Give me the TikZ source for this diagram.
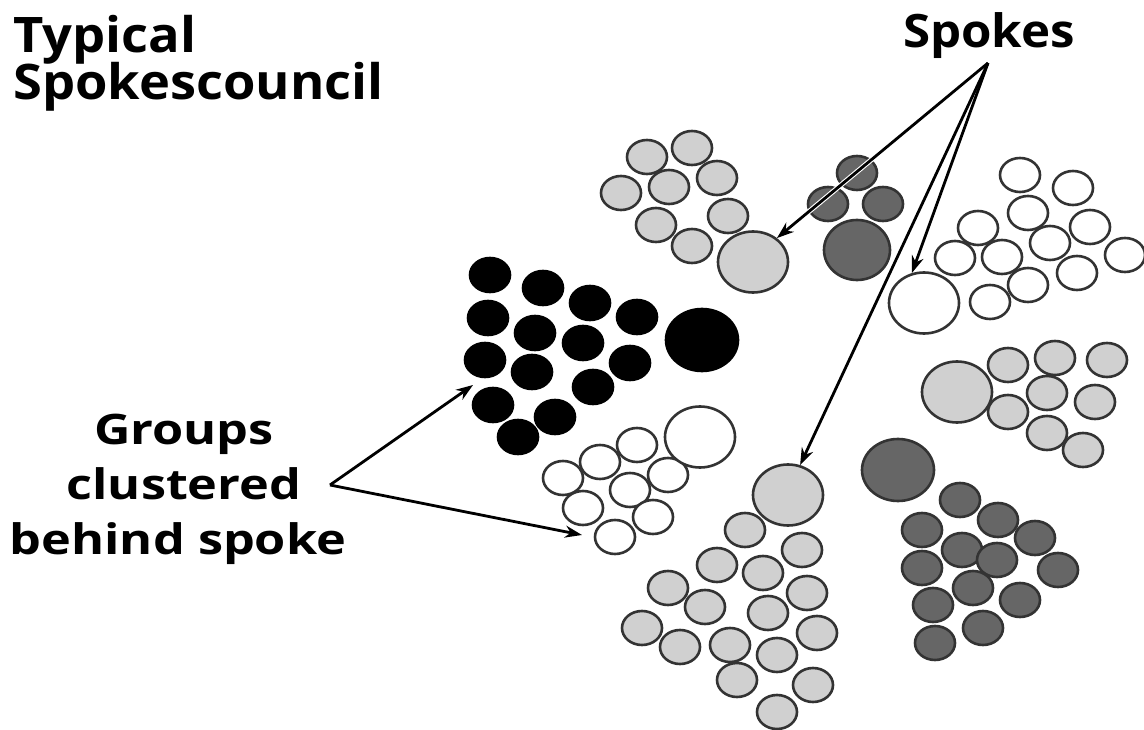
\documentclass[tikz,border=0pt]{standalone}
\usepackage{fontspec}
\setmainfont{Open Sans}
\newfontfamily\titlefont{Open Sans}[FakeStretch=1.07]
\newfontfamily\groupfont{Open Sans}[FakeStretch=1.2]
\usetikzlibrary{shapes.geometric,arrows.meta}
\definecolor{lgray}{HTML}{D0D0D0}
\definecolor{dgray}{HTML}{666666}
\definecolor{rim}{HTML}{333333}
\tikzset{
  dot/.style={ellipse,inner sep=0pt,draw=rim,line width=2.6pt,minimum width=40pt,minimum height=34pt},
  bigdot/.style={dot,minimum width=70pt,minimum height=61pt},
  lg/.style={fill=lgray},
  dg/.style={fill=dgray},
  wt/.style={fill=white},
  bk/.style={fill=black,draw=black},
  arr/.style={line width=2.8pt,-{Stealth[length=17pt,width=12pt]}},
  label/.style={inner sep=0pt},
}
\begin{document}
\begin{tikzpicture}[x=1pt,y=-1pt]
\useasboundingbox (0,0) rectangle (1144,730);
% light grey top-left cluster
\foreach \x/\y [count=\i] in {647/157,692/148,621/193,669/187,717/178,656/225,728/216,692/246}
  \node[dot,lg] (a\i) at (\x,\y) {};
\node[bigdot,lg] (aS) at (753,262) {};
% dark grey top cluster
\foreach \x/\y [count=\i] in {857/173,828/204,883/204}
  \node[dot,dg] (b\i) at (\x,\y) {};
\node[bigdot,dg,minimum width=66pt,minimum height=60pt] (bS) at (857,250) {};
% white top-right cluster
\foreach \x/\y [count=\i] in {1020/175,1073/188,1028/213,1090/227,978/228,1050/243,955/258,1002/257,1125/255,1077/273,1028/285,990/302}
  \node[dot,wt] (c\i) at (\x,\y) {};
\node[bigdot,wt] (cS) at (924,303) {};
% black cluster
\foreach \x/\y [count=\i] in {490/275,543/288,590/303,637/317,488/318,535/333,583/343,485/360,532/372,630/363,593/387,493/405,555/417,518/437}
  \node[dot,bk] (d\i) at (\x,\y) {};
\node[bigdot,bk,minimum width=72pt,minimum height=62pt] (dS) at (702,340) {};
% white lower-left cluster
\foreach \x/\y [count=\i] in {637/445,600/462,668/475,563/478,630/490,583/508,653/517,615/537}
  \node[dot,wt] (e\i) at (\x,\y) {};
\node[bigdot,wt] (eS) at (700,437) {};
% light grey bottom cluster
\foreach \x/\y [count=\i] in {745/530,802/550,717/565,763/573,668/588,807/593,705/607,768/613,642/628,817/633,680/647,730/645,777/655,737/680,813/685,777/712}
  \node[dot,lg] (f\i) at (\x,\y) {};
\node[bigdot,lg] (fS) at (788,495) {};
% light grey right cluster
\foreach \x/\y [count=\i] in {1008/365,1055/358,1107/360,1047/393,1095/402,1008/412,1047/433,1083/450}
  \node[dot,lg] (g\i) at (\x,\y) {};
\node[bigdot,lg] (gS) at (957,392) {};
% dark grey bottom-right cluster
\foreach \x/\y [count=\i] in {960/500,998/520,922/530,1035/538,962/550,997/560,922/568,1058/570,973/588,1020/600,933/605,983/628,935/643}
  \node[dot,dg] (h\i) at (\x,\y) {};
\node[bigdot,dg,minimum width=72pt,minimum height=62pt] (hS) at (898,470) {};
% texts
\node[label,anchor=base west,font=\titlefont\fontsize{49}{49}\selectfont\bfseries] (t1) at (13,53) {Typical};
\node[label,anchor=base west,font=\titlefont\fontsize{49}{49}\selectfont\bfseries] (t2) at (13,100) {Spokescouncil};
\node[label,anchor=base,font=\titlefont\fontsize{46}{46}\selectfont\bfseries] (sp) at (989,48) {Spokes};
\node[label,anchor=base,font=\groupfont\fontsize{42}{42}\selectfont\bfseries] (g1) at (184,444) {Groups};
\node[label,anchor=base,font=\groupfont\fontsize{42}{42}\selectfont\bfseries] (g2) at (184,499) {clustered};
\node[label,anchor=base,font=\groupfont\fontsize{42}{42}\selectfont\bfseries] (g3) at (178,554) {behind spoke};
% connectors
\coordinate (so) at (988,63);
\coordinate (go) at (330,485);
\coordinate (gt1) at (473,385);
\coordinate (gt2) at (582,535);
\draw[arr,preaction={draw=white,line width=5pt}] (so) -- (aS.45);
\draw[arr] (so) -- (cS.112);
\draw[arr] (so) -- (fS.68);
\draw[arr] (go) -- (gt1);
\draw[arr] (go) -- (gt2);
\end{tikzpicture}
\end{document}
